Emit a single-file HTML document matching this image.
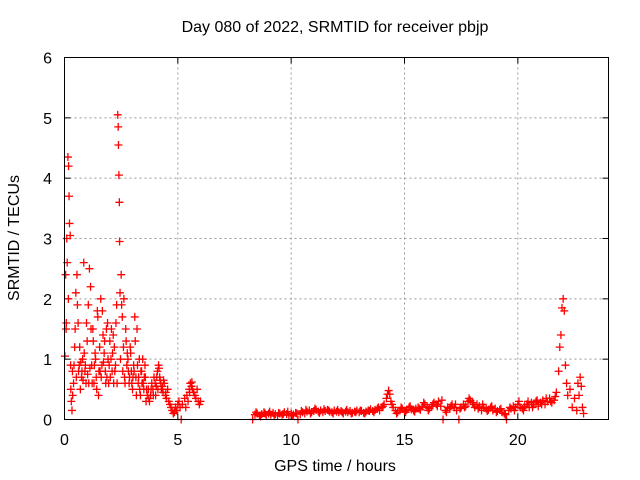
<!DOCTYPE html>
<html><head><meta charset="utf-8"><style>
html,body{margin:0;padding:0;background:#fff;}
svg{display:block;font-family:"Liberation Sans",sans-serif;}
</style></head><body>
<svg id="chart" width="640" height="480">
<text x="335" y="32" font-size="16" text-anchor="middle" fill="#000">Day 080 of 2022, SRMTID for receiver pbjp</text>
<text x="335" y="471" font-size="16" text-anchor="middle" fill="#000">GPS time / hours</text>
<text transform="translate(19,238) rotate(-90)" font-size="16" text-anchor="middle" fill="#000">SRMTID / TECUs</text>
<g id="grid"></g>
<g id="ticks"></g>
<g id="marks"></g>
<rect x="64.5" y="57.5" width="544" height="362" fill="none" stroke="#000" stroke-width="1"/>
</svg>
<script>
const xTicks=[0,5,10,15,20];
const yTicks=[0,1,2,3,4,5,6];
const times=[0.02,0.05,0.08,0.1,0.12,0.15,0.18,0.2,0.22,0.25,0.28,0.3,0.33,0.36,0.4,0.45,0.5,0.55,0.6,0.65,0.7,0.75,0.8,0.85,0.9,0.95,1.0,1.05,1.1,1.15,1.2,1.25,1.3,1.35,1.4,1.45,1.5,1.55,1.6,1.65,1.7,1.75,1.8,1.85,1.9,1.95,2.0,2.05,2.1,2.15,2.2,2.25,2.3,2.35,2.37,2.38,2.4,2.42,2.43,2.45,2.5,2.55,2.6,2.65,2.7,2.75,2.8,2.85,2.9,2.95,3.0,3.05,3.1,3.15,3.2,3.25,3.3,3.35,3.4,3.45,3.5,3.55,3.6,3.65,3.7,3.75,3.8,3.85,3.9,3.95,4.0,4.05,4.1,4.15,4.2,4.25,4.3,4.35,4.4,4.45,4.5,4.55,4.6,4.65,4.7,4.75,4.8,4.85,4.9,4.95,5.0,5.05,5.1,5.15,5.2,5.3,5.4,5.5,5.55,5.6,5.65,5.7,5.75,5.8,5.85,5.9,5.95,6.0,
0.35,0.42,0.52,0.62,0.72,0.82,0.92,1.02,1.12,1.22,1.32,1.42,1.52,1.62,1.72,1.82,1.92,2.02,2.12,2.22,2.32,2.47,2.57,2.67,2.77,2.87,2.97,3.07,3.17,3.27,3.37,3.47,3.57,4.02,4.12,4.22,4.32,5.35,5.45,5.52,5.62,
0.07,0.17,0.27,0.47,0.57,0.67,0.77,0.87,0.97,1.07,1.17,1.27,1.37,1.47,1.57,1.67,1.77,1.87,1.97,2.07,2.17,2.27,2.52,2.62,2.72,2.82,2.92,3.02,3.12,3.22,3.32,3.42,3.52,3.62,3.72,3.82,3.92,4.07,4.17,4.27,4.37,4.47,
8.3,8.4,8.5,8.6,8.7,8.8,8.9,9.0,9.1,9.2,9.3,9.4,9.5,9.6,9.7,9.8,9.9,10.0,10.1,10.2,10.3,10.4,10.5,10.6,10.7,10.8,10.9,11.0,11.1,11.2,11.3,11.4,11.5,11.6,11.7,11.8,11.9,12.0,12.1,12.2,12.3,12.4,12.5,12.6,12.7,12.8,12.9,13.0,13.1,13.2,13.3,13.4,13.5,13.6,13.7,13.8,13.9,14.0,14.1,14.2,14.3,14.35,14.4,14.5,14.6,14.7,14.8,14.9,15.0,15.1,15.2,15.3,15.4,15.5,15.6,15.7,15.8,15.9,16.0,16.1,16.2,16.3,16.4,16.5,16.6,16.7,16.8,16.9,17.0,17.1,17.2,17.3,17.4,17.5,17.6,17.7,17.8,17.9,18.0,18.1,18.2,18.3,18.4,18.5,18.6,18.7,18.8,18.9,19.0,19.1,19.2,19.3,19.4,19.5,19.6,19.7,19.8,19.9,20.0,20.1,20.2,20.3,20.4,20.5,20.6,20.7,20.8,20.9,21.0,21.1,21.2,21.3,21.4,21.5,21.6,21.7,21.8,21.85,21.9,21.95,22.0,22.05,22.1,22.15,22.2,22.3,22.4,22.5,22.6,22.65,22.7,22.75,22.8,22.85,22.9,
8.45,8.65,8.85,9.05,9.25,9.45,9.65,9.85,10.05,10.25,10.45,10.65,10.85,11.05,11.25,11.45,11.65,11.85,12.05,12.25,12.45,12.65,12.85,13.05,13.25,13.45,13.65,13.85,14.05,14.25,14.45,14.65,14.85,15.05,15.25,15.45,15.65,15.85,16.05,16.25,16.45,16.65,16.85,17.05,17.25,17.45,17.65,17.85,18.05,18.25,18.45,18.65,18.85,19.05,19.25,19.45,19.65,19.85,20.05,20.25,20.45,20.65,20.85,21.05,21.25,21.45,21.65];
const values=[1.05,2.4,1.6,3.0,2.6,4.35,4.2,3.7,3.25,3.05,0.5,0.3,0.15,0.4,0.6,1.2,2.1,2.4,1.6,0.9,0.5,0.7,1.0,2.6,0.8,0.6,1.3,1.9,2.5,2.2,0.9,1.5,0.6,1.1,0.7,1.8,0.4,1.2,2.0,0.9,1.4,1.1,0.8,1.5,1.6,0.6,1.3,1.0,0.8,1.4,1.2,0.9,1.9,5.05,4.85,4.55,4.05,3.6,2.95,2.1,2.4,1.7,1.2,0.7,1.5,0.9,1.0,0.6,1.2,0.8,0.5,0.9,1.7,0.7,1.5,0.6,1.0,0.4,0.8,1.0,0.5,0.9,0.3,0.4,0.5,0.3,0.4,0.6,0.5,0.7,0.6,0.55,0.8,0.9,0.7,0.6,0.5,0.45,0.6,0.4,0.35,0.5,0.3,0.25,0.2,0.15,0.1,0.12,0.2,0.15,0.25,0.3,0.2,0.0,0.25,0.35,0.4,0.5,0.6,0.55,0.5,0.45,0.4,0.35,0.5,0.3,0.25,0.3,
0.8,0.9,0.7,0.8,0.95,0.65,0.9,0.75,0.85,0.6,0.9,0.5,0.8,0.7,0.95,0.6,1.0,0.7,1.1,0.8,0.6,1.0,0.8,0.6,1.1,0.7,0.6,0.8,0.4,0.7,0.8,0.6,0.7,0.4,0.5,0.65,0.55,0.2,0.3,0.45,0.62,
1.5,2.0,0.9,1.5,1.9,1.2,0.8,1.1,1.6,0.6,1.5,1.3,1.0,1.7,0.8,1.8,1.3,0.7,0.9,1.5,0.6,1.6,1.9,2.0,1.3,0.8,1.1,0.7,1.3,0.9,0.5,0.6,0.7,0.5,0.35,0.5,0.4,0.7,0.85,0.5,0.65,0.45,
0.0,0.08,0.1,0.06,0.09,0.12,0.07,0.1,0.08,0.11,0.09,0.06,0.1,0.08,0.12,0.09,0.07,0.1,0.08,0.11,0.0,0.09,0.12,0.1,0.13,0.15,0.12,0.14,0.16,0.13,0.15,0.12,0.14,0.16,0.13,0.12,0.15,0.13,0.12,0.14,0.1,0.13,0.12,0.14,0.11,0.13,0.15,0.12,0.14,0.11,0.13,0.15,0.17,0.14,0.16,0.18,0.15,0.2,0.25,0.35,0.48,0.42,0.3,0.2,0.15,0.12,0.15,0.18,0.14,0.16,0.2,0.17,0.15,0.18,0.2,0.16,0.22,0.25,0.2,0.18,0.22,0.28,0.25,0.3,0.22,0.0,0.15,0.2,0.18,0.25,0.2,0.15,0.0,0.2,0.25,0.22,0.3,0.32,0.28,0.2,0.25,0.22,0.15,0.2,0.18,0.16,0.2,0.15,0.18,0.14,0.16,0.12,0.1,0.0,0.15,0.18,0.22,0.2,0.25,0.2,0.18,0.22,0.25,0.2,0.28,0.25,0.3,0.22,0.28,0.32,0.25,0.3,0.35,0.28,0.32,0.45,0.8,1.2,1.4,1.85,2.0,1.8,0.9,0.6,0.4,0.5,0.2,0.35,0.15,0.6,0.4,0.7,0.55,0.2,0.1,
0.12,0.05,0.1,0.13,0.06,0.11,0.09,0.13,0.06,0.1,0.14,0.16,0.1,0.18,0.11,0.17,0.15,0.1,0.16,0.12,0.16,0.1,0.12,0.15,0.1,0.14,0.12,0.2,0.22,0.42,0.25,0.1,0.2,0.12,0.22,0.13,0.18,0.28,0.15,0.25,0.22,0.32,0.12,0.22,0.25,0.18,0.2,0.35,0.25,0.18,0.25,0.14,0.22,0.12,0.18,0.08,0.2,0.15,0.3,0.15,0.3,0.2,0.32,0.25,0.35,0.3,0.38];

const NS='http://www.w3.org/2000/svg';
const X0=64.5,X1=608.5,Y0=419.5,Y1=57.5;
function xs(t){return X0+(t/24)*(X1-X0);}
function ys(v){return Y0-(v/6)*(Y0-Y1);}
const grid=document.getElementById('grid'),ticks=document.getElementById('ticks'),marks=document.getElementById('marks');
function mk(tag,attrs,parent){const e=document.createElementNS(NS,tag);for(const k in attrs)e.setAttribute(k,attrs[k]);parent.appendChild(e);return e;}
xTicks.forEach(t=>{
  const x=xs(t);
  if(t>0){const g=mk('line',{x1:x,x2:x,y1:Y1,y2:Y0,stroke:'#999','stroke-dasharray':'2,3'},grid);
  
  }
  mk('line',{x1:x,x2:x,y1:Y0,y2:Y0-6,stroke:'#000'},ticks);
  mk('line',{x1:x,x2:x,y1:Y1,y2:Y1+6,stroke:'#000'},ticks);
  const l=mk('text',{x:x,y:445,'font-size':16,'text-anchor':'middle'},ticks);
  l.textContent=t;
  
  
});
yTicks.forEach(v=>{
  const y=ys(v);
  if(v>0&&v<6){const g=mk('line',{x1:X0,x2:X1,y1:y,y2:y,stroke:'#999','stroke-dasharray':'2,3'},grid);
  
  }
  mk('line',{x1:X0,x2:X0+6,y1:y,y2:y,stroke:'#000'},ticks);
  mk('line',{x1:X1,x2:X1-6,y1:y,y2:y,stroke:'#000'},ticks);
  const l=mk('text',{x:52,y:y+6,'font-size':16,'text-anchor':'end'},ticks);
  l.textContent=v;
  
  
});
times.forEach((t,i)=>{
  const x=xs(t),y=ys(values[i]);
  const p=mk('path',{d:`M${x-4},${y}H${x+4}M${x},${y-4}V${y+4}`,stroke:'#ff0000','stroke-width':1.3,fill:'none'},marks);
  
  
});
</script>
</body></html>
